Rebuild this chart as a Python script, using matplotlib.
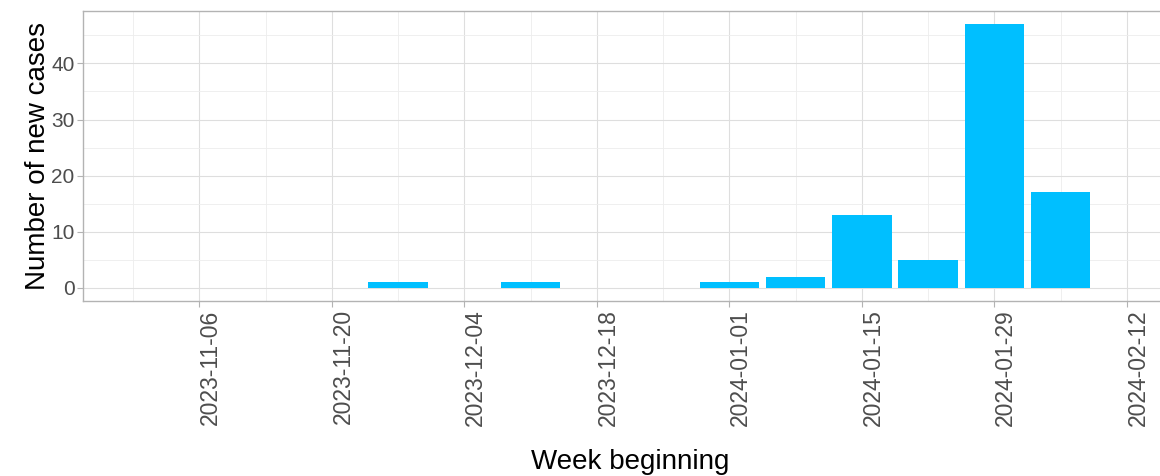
import matplotlib
matplotlib.use('Agg')
import matplotlib.pyplot as plt
import matplotlib.ticker as mticker
import matplotlib.dates as mdates
import pandas as pd

plt.close('all')

week_start = ['2023-11-27', '2023-12-11', '2024-01-01', '2024-01-08',
              '2024-01-15', '2024-01-22', '2024-01-29', '2024-02-05']
new_cases = [1, 1, 1, 2, 13, 5, 47, 17]

major_ticks = ['2023-11-06', '2023-11-20', '2023-12-04', '2023-12-18',
               '2024-01-01', '2024-01-15', '2024-01-29', '2024-02-12']

plt.rcParams['font.family'] = ['Liberation Sans', 'DejaVu Sans']

weeks = pd.to_datetime(week_start)
ticks = pd.to_datetime(major_ticks)
minor = list(ticks - pd.Timedelta(days=7)) + [ticks[-1] + pd.Timedelta(days=7)]

fig = plt.figure(figsize=(11.6, 4.76), dpi=100)
ax = fig.add_axes([83 / 1160, 175 / 476, 1 - 83 / 1160, 290 / 476])

ax.bar(weeks, new_cases, width=6.3, color='#00BFFF', zorder=3)

ax.set_xlim(pd.Timestamp('2023-10-24 17:00'), pd.Timestamp('2024-02-15 12:00'))
ax.set_ylim(-2.35, 49.35)

ax.set_xticks(ticks)
ax.set_xticklabels([t.strftime('%Y-%m-%d') for t in ticks], rotation=90,
                   ha='left', va='top', fontsize=16.5, color='#4D4D4D')
ax.xaxis.set_minor_locator(mticker.FixedLocator(mdates.date2num(minor)))

ax.set_yticks([0, 10, 20, 30, 40])
ax.set_yticks([5, 15, 25, 35, 45], minor=True)
ax.tick_params(axis='y', labelsize=15, labelcolor='#4D4D4D')

ax.tick_params(which='major', length=4, width=0.8, color='#B3B3B3', pad=2)
ax.tick_params(which='minor', length=0)

ax.grid(which='major', color='#DEDEDE', linewidth=0.8, zorder=0)
ax.grid(which='minor', color='#EDEDED', linewidth=0.6, zorder=0)
ax.set_axisbelow(True)

for side in ['left', 'top', 'bottom']:
    ax.spines[side].set_color('#B3B3B3')
    ax.spines[side].set_linewidth(1.0)
ax.spines['right'].set_visible(False)

ax.set_ylabel('Number of new cases', fontsize=20)
ax.yaxis.set_label_coords(-32 / (1160 - 83), 0.5)
fig.text(630 / 1160, 1 - 462 / 476, 'Week beginning', fontsize=20,
         ha='center', va='center')

fig.savefig('out.png', dpi=100)
